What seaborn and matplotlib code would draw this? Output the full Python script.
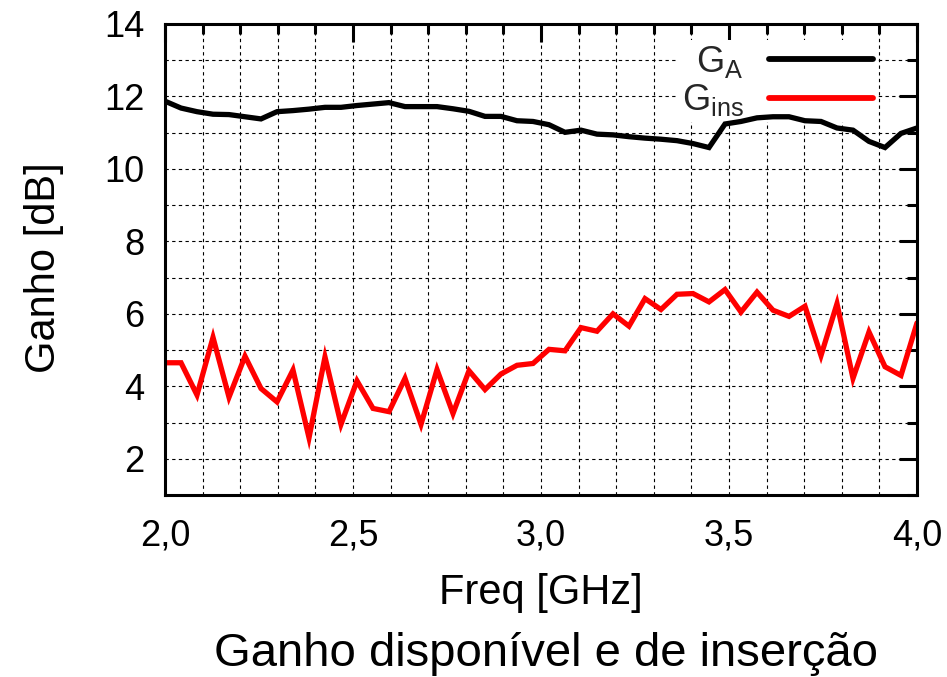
import matplotlib
matplotlib.use("Agg")
import numpy as np
import pandas as pd
import seaborn as sns
import matplotlib.pyplot as plt
from matplotlib.ticker import MultipleLocator, FuncFormatter
from matplotlib.lines import Line2D

# ---------------- data ----------------
freq = [2.0, 2.0426, 2.0851, 2.1277, 2.1702, 2.2128, 2.2553, 2.2979, 2.3404, 2.3830,
        2.4255, 2.4681, 2.5106, 2.5532, 2.5957, 2.6383, 2.6809, 2.7234, 2.7660, 2.8085,
        2.8511, 2.8936, 2.9362, 2.9787, 3.0213, 3.0638, 3.1064, 3.1489, 3.1915, 3.2340,
        3.2766, 3.3191, 3.3617, 3.4043, 3.4468, 3.4894, 3.5319, 3.5745, 3.6170, 3.6596,
        3.7021, 3.7447, 3.7872, 3.8298, 3.8723, 3.9149, 3.9574, 4.0]

ga = [11.87, 11.68, 11.58, 11.51, 11.50, 11.44, 11.38, 11.58, 11.61, 11.65,
      11.70, 11.70, 11.75, 11.79, 11.83, 11.72, 11.72, 11.72, 11.66, 11.59,
      11.45, 11.45, 11.33, 11.31, 11.22, 11.01, 11.07, 10.96, 10.94, 10.89,
      10.85, 10.82, 10.78, 10.70, 10.59, 11.24, 11.31, 11.41, 11.44, 11.44,
      11.33, 11.31, 11.13, 11.07, 10.76, 10.59, 10.98, 11.13]

gins = [4.65, 4.65, 3.76, 5.35, 3.70, 4.83, 3.94, 3.57, 4.45, 2.58,
        4.81, 2.95, 4.15, 3.39, 3.30, 4.22, 2.95, 4.46, 3.25, 4.43,
        3.91, 4.34, 4.58, 4.63, 5.02, 4.98, 5.62, 5.52, 6.00, 5.66,
        6.42, 6.12, 6.54, 6.56, 6.33, 6.67, 6.05, 6.60, 6.10, 5.93,
        6.21, 4.85, 6.28, 4.22, 5.50, 4.54, 4.30, 5.75]

series_names = ["GA", "Gins"]
legend_labels = [r"G$_\mathrm{A}$", r"G$_\mathrm{ins}$"]
series_colors = {"GA": "black", "Gins": "#ff0000"}

x_label = "Freq [GHz]"
y_label = "Ganho [dB]"
title = "Ganho disponível e de inserção"

# ---------------- style ----------------
sns.set_style("white")
plt.rcParams["font.family"] = ["Liberation Sans", "DejaVu Sans"]
plt.rcParams["mathtext.fontset"] = "custom"
plt.rcParams["mathtext.rm"] = "Liberation Sans"
plt.rcParams["mathtext.it"] = "Liberation Sans:italic"
plt.rcParams["mathtext.bf"] = "Liberation Sans:bold"

df = pd.DataFrame({
    "freq": freq + freq,
    "gain": ga + gins,
    "series": [series_names[0]] * len(freq) + [series_names[1]] * len(freq),
})

fig = plt.figure(figsize=(9.47, 6.77), dpi=100)
ax = fig.add_axes([165 / 947, 1 - 495 / 677, 752 / 947, 471 / 677])

sns.lineplot(data=df, x="freq", y="gain", hue="series", palette=series_colors,
             linewidth=3.8, estimator=None, legend=False, ax=ax)
for ln in ax.get_lines():
    ln.set_solid_joinstyle("miter")
    ln.set_zorder(2)

ax.set_xlim(2.0, 4.0)
ax.set_ylim(1, 14)
ax.xaxis.set_major_locator(MultipleLocator(0.5))
ax.xaxis.set_minor_locator(MultipleLocator(0.1))
ax.yaxis.set_major_locator(MultipleLocator(2))
ax.yaxis.set_minor_locator(MultipleLocator(1))
ax.xaxis.set_major_formatter(FuncFormatter(lambda v, p: f"{v:.1f}".replace(".", ",")))
ax.yaxis.set_major_formatter(FuncFormatter(lambda v, p: f"{v:.0f}"))

ax.set_axisbelow(True)
ax.grid(which="both", color="black", linewidth=0.8, linestyle=(0, (3, 3)))

ax.tick_params(which="both", direction="in", top=True, right=True, width=2.2,
               color="black", labelcolor="black")
ax.tick_params(which="major", length=13, labelsize=26)
ax.tick_params(which="minor", length=7)
ax.tick_params(axis="x", which="major", pad=17)
ax.tick_params(axis="y", which="major", pad=15)

for sp in ax.spines.values():
    sp.set_linewidth(2.2)
    sp.set_color("black")
    sp.set_zorder(3)

ax.set_xlabel(x_label, fontsize=30, color="black")
ax.set_ylabel(y_label, fontsize=30, color="black")
ax.xaxis.set_label_coords(0.5, 1 - (573 - 24) / 471)
ax.yaxis.set_label_coords((64 - 165) / 752, 1 - (268 - 24) / 471)

handles = [Line2D([], [], color=series_colors[s], linewidth=4.2) for s in series_names]
leg = ax.legend(handles, legend_labels, loc="upper right",
                bbox_to_anchor=((877 - 165) / 752, 1 - 16 / 471),
                borderaxespad=0, markerfirst=False, fontsize=26,
                handlelength=2.9, handletextpad=0.7, labelspacing=0.08,
                frameon=True, fancybox=False, framealpha=1, facecolor="white",
                edgecolor="white", borderpad=0.1)
leg.get_frame().set_linewidth(0)
leg.set_zorder(1.9)

fig.text(546 / 947, 1 - 666 / 677, title, ha="center", va="baseline",
         fontsize=34, color="black")

fig.savefig("out.png", dpi=100)
